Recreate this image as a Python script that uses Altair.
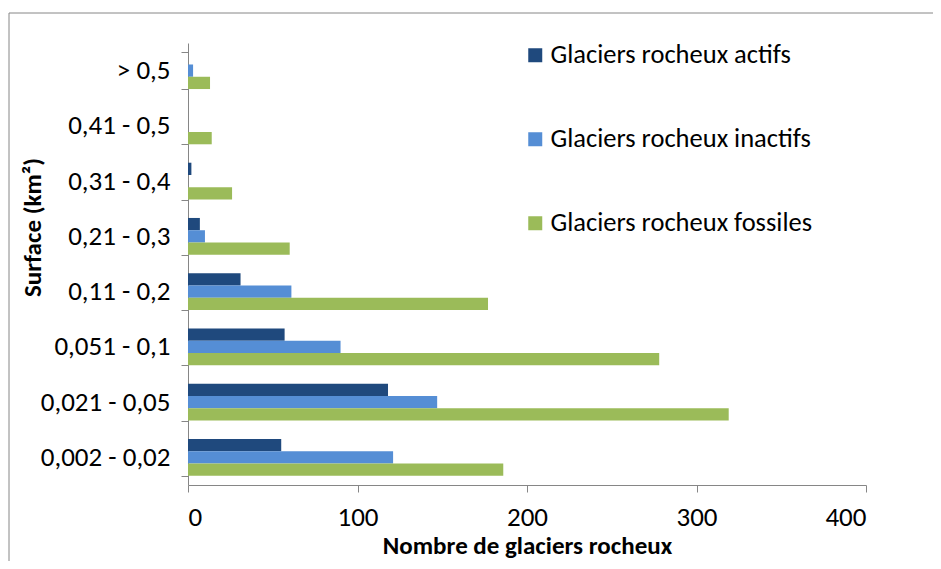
import altair as alt
import pandas as pd

categories = ["> 0,5", "0,41 - 0,5", "0,31 - 0,4", "0,21 - 0,3",
              "0,11 - 0,2", "0,051 - 0,1", "0,021 - 0,05", "0,002 - 0,02"]
series = ["Glaciers rocheux actifs", "Glaciers rocheux inactifs", "Glaciers rocheux fossiles"]
actifs = [0, 0, 2, 7, 31, 57, 118, 55]
inactifs = [3, 0, 0, 10, 61, 90, 147, 121]
fossiles = [13, 14, 26, 60, 177, 278, 319, 186]
colors = ["#1F497D", "#558ED5", "#9BBB59"]
x_ticks = [0, 100, 200, 300, 400]

rows = []
for s, vals in zip(series, [actifs, inactifs, fossiles]):
    for c, v in zip(categories, vals):
        rows.append({"Surface": c, "Serie": s, "Nombre": v})
df = pd.DataFrame(rows)

FONT = "Carlito, Lato"
GRAY = "#868686"
FS = 27

bars = alt.Chart(df).mark_bar().encode(
    y=alt.Y("Surface:N", sort=categories,
            scale=alt.Scale(paddingInner=1/3, paddingOuter=1/6),
            axis=alt.Axis(title="Surface (km²)", titleFont=FONT, titleFontWeight="bold",
                          titleFontSize=25, titleColor="black", titleX=-156, titleY=184,
                          titleAlign="center", titleBaseline="middle", titleAngle=-90,
                          labelFont=FONT, labelFontSize=FS, labelColor="black",
                          labelPadding=11, tickSize=7, tickBand="extent", labelLimit=0,
                          domainColor=GRAY, tickColor=GRAY, grid=False)),
    yOffset=alt.YOffset("Serie:N", sort=series,
                        scale=alt.Scale(domain=series, paddingInner=0, paddingOuter=0)),
    x=alt.X("Nombre:Q", scale=alt.Scale(domain=[0, 400], nice=False),
            axis=alt.Axis(values=x_ticks, title="Nombre de glaciers rocheux",
                          titleFont=FONT, titleFontWeight="bold", titleFontSize=25,
                          titleColor="black", titlePadding=3,
                          labelFont=FONT, labelFontSize=FS, labelColor="black",
                          labelPadding=12, tickSize=7, domainColor=GRAY, tickColor=GRAY,
                          grid=False)),
    color=alt.Color("Serie:N", sort=series,
                    scale=alt.Scale(domain=series, range=colors),
                    legend=alt.Legend(title=None, orient="none", legendX=334, legendY=-1,
                                      symbolType="square", symbolSize=196,
                                      symbolStrokeWidth=0, labelFont=FONT,
                                      labelFontSize=26.5, labelColor="black", labelLimit=0,
                                      labelOffset=2, rowPadding=57, padding=0)),
)

one = pd.DataFrame({"a": [0]})
top_border = alt.Chart(one).mark_rule(color=GRAY, strokeWidth=1).encode(
    x=alt.value(-179), x2=alt.value(900), y=alt.value(-30))
left_border = alt.Chart(one).mark_rule(color=GRAY, strokeWidth=1).encode(
    x=alt.value(-179), y=alt.value(-30), y2=alt.value(600))

chart = alt.layer(bars, top_border, left_border).properties(
    width=678, height=442,
    autosize=alt.AutoSizeParams(type="none"),
    padding={"left": 180, "top": 35, "right": 67, "bottom": 76},
).configure_view(stroke=None)

chart.save("out.html", embed_options={"renderer": "svg", "actions": False})
